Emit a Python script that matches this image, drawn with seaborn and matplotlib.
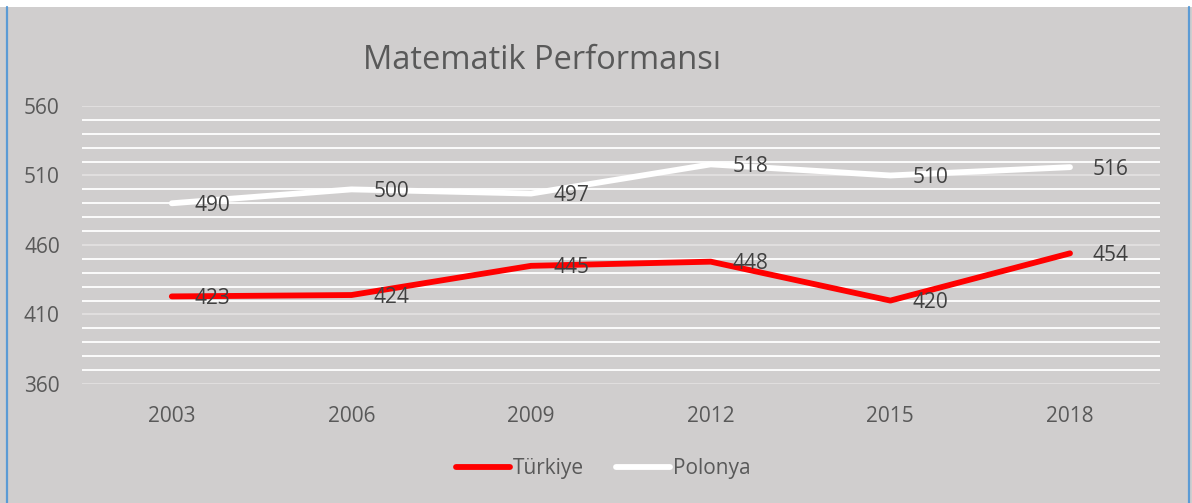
import numpy as np
import pandas as pd
import matplotlib
matplotlib.use('Agg')
import matplotlib.pyplot as plt
import seaborn as sns
from matplotlib.lines import Line2D
from matplotlib.patches import Rectangle

years = ['2003', '2006', '2009', '2012', '2015', '2018']
turkiye = [423, 424, 445, 448, 420, 454]
polonya = [490, 500, 497, 518, 510, 516]

df = pd.DataFrame({'Yıl': years * 2,
                   'Puan': turkiye + polonya,
                   'Ülke': ['Türkiye'] * 6 + ['Polonya'] * 6})

bg = '#d0cece'
txt = '#595959'
sns.set_style('white')
plt.rcParams['font.family'] = ['Open Sans', 'DejaVu Sans']

fig = plt.figure(figsize=(11.92, 5.03), dpi=100, facecolor=bg)
ax = fig.add_axes([0.0688, 0.2366, 0.9042, 0.5527])
ax.set_facecolor(bg)

sns.lineplot(data=df, x='Yıl', y='Puan', hue='Ülke',
             palette={'Türkiye': '#ff0000', 'Polonya': '#ffffff'},
             linewidth=4.2, ax=ax, legend=False, sort=False)
for l in ax.lines:
    l.set_solid_capstyle('round')
    l.set_solid_joinstyle('round')

ax.set_ylim(360, 560)
ax.set_xlim(-0.5, 5.5)
ax.set_yticks(range(360, 561, 50))
ax.set_yticks(range(360, 561, 10), minor=True)
ax.grid(which='major', axis='y', color='#e2e0e0', linewidth=1.3, zorder=0)
ax.grid(which='minor', axis='y', color='#ffffff', linewidth=1.3, zorder=0)
ax.set_axisbelow(True)
for s in ax.spines.values():
    s.set_visible(False)
ax.tick_params(axis='both', which='both', length=0, labelsize=15, labelcolor=txt)
ax.tick_params(axis='y', pad=16)
ax.tick_params(axis='x', pad=16)
ax.set_xlabel('')
ax.set_ylabel('')

for vals in (turkiye, polonya):
    for i, v in enumerate(vals):
        ax.annotate(str(v), (i, v), xytext=(16, -1.5), textcoords='offset points',
                    ha='left', va='center', fontsize=15, color='#404040')

fig.text(0.455, 0.88, 'Matematik Performansı', ha='center', va='center',
         fontsize=23.5, color=txt)

handles = [Line2D([0], [0], color='#ff0000', lw=4.2, solid_capstyle='round'),
           Line2D([0], [0], color='#ffffff', lw=4.2, solid_capstyle='round')]
leg = fig.legend(handles, ['Türkiye', 'Polonya'], loc='center',
                 bbox_to_anchor=(0.506, 0.068), ncol=2, frameon=False,
                 fontsize=15, handlelength=2.6, handletextpad=0.15,
                 columnspacing=1.5)
for t in leg.get_texts():
    t.set_color(txt)

fig.patches.insert(0, Rectangle((0, 0.986), 1, 0.014, transform=fig.transFigure,
                                facecolor='white', edgecolor='none'))
for xb in (0.0055, 0.9975):
    fig.add_artist(Line2D([xb, xb], [0, 0.986], transform=fig.transFigure,
                          color='#5b9bd5', linewidth=1.6))

fig.savefig('out.png', dpi=100, facecolor=bg)
